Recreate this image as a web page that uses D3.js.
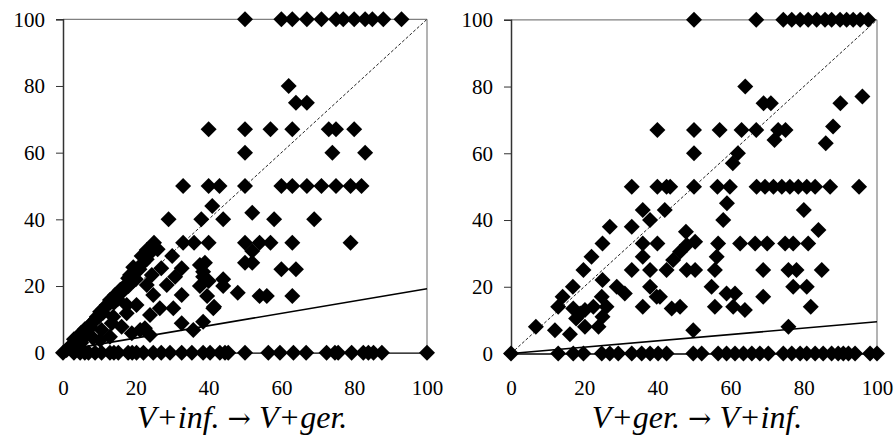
<!DOCTYPE html>
<html>
<head>
<meta charset="utf-8">
<script src="https://cdn.jsdelivr.net/npm/d3@7"></script>
<style>
  html, body { margin: 0; padding: 0; background: #fff; }
  svg { display: block; }
</style>
</head>
<body>
<svg id="chart" width="895" height="440"></svg>
<script>
// ---------------- DATA ----------------
const tickValues = [0, 20, 40, 60, 80, 100];
const leftTitle = ["V+inf. ", "\u2192", " V+ger."];
const rightTitle = ["V+ger. ", "\u2192", " V+inf."];

// Left panel: V+inf. -> V+ger.
const leftX = [
  50, 60, 63, 67, 71, 75, 77, 80, 83, 85, 88, 93,
  62, 64, 67,
  40, 50, 57, 63, 73, 75, 80,
  50, 74, 83,
  33, 40, 43, 50, 60, 63, 67, 71, 75, 79, 82,
  41, 52,
  29, 38, 44, 58, 69,
  25, 33, 36, 40, 50, 54, 57, 63, 79,
  52, 23, 21.6, 30, 50, 52, 39,
  19.3, 27, 32.6, 37.6, 60, 64, 38.5,
  18.4, 24.4, 30.8, 38.5, 44,
  17, 23, 28.5, 37.6, 44, 40, 48,
  14.3, 24.8, 32.6, 39.6, 54, 56, 63,
  12, 17.5, 20.2, 41.5, 26.6, 30.3, 41.3,
  9.3, 32.6, 35.8, 38.5,
  7.4, 13.4, 16.1, 18.9, 22.5, 23.9, 12.9, 6, 10.2, 5, 3,
  19.8, 17.9, 15.7, 12.9, 10.2, 8.3, 6.5, 3.8, 1,
  21.2, 10.6, 8.3, 17.5, 13.8, 23.9,
  21, 22, 20, 18, 16, 15, 13, 11, 10, 8, 7, 5, 4, 2, 3, 6, 9, 11, 14, 16, 19, 23, 24, 26,
  0, 3, 4.7, 6, 7, 8.8, 10.6, 12.9, 14, 15.2, 17.9, 19, 20.2, 22.1, 24.8, 27, 29.4, 32.6, 35.4,
  38.5, 40.4, 43.1, 44.5, 45.4, 50, 56.4, 59.6, 63.3, 66.8, 72.4, 74.7, 75.6, 79.3, 82.5, 83.9, 85.3, 87.6, 100
];
const leftY = [
  100, 100, 100, 100, 100, 100, 100, 100, 100, 100, 100, 100,
  80, 75, 75,
  67, 67, 67, 67, 67, 67, 67,
  60, 60, 60,
  50, 50, 50, 50, 50, 50, 50, 50, 50, 50, 50,
  44, 42,
  40, 40, 40, 40, 40,
  33, 33, 33, 33, 33, 33, 33, 33, 33,
  30.5, 30.8, 29, 29, 27, 27, 27,
  25.6, 25.3, 25.3, 26.3, 25, 25, 24.3,
  23.3, 23.3, 22.8, 22.8, 22,
  20, 20.3, 20.3, 20, 20, 21.5, 18,
  17.3, 17.3, 17.3, 17, 17, 17, 17,
  14.3, 14.3, 14.3, 13.8, 13.3, 13.3, 13.3,
  10.8, 8.8, 6.8, 9.3,
  7.8, 8.8, 7.8, 5.8, 7.3, 5.3, 4.8, 4.8, 3.8, 3, 1.8,
  24.3, 22.3, 18.8, 15.8, 12.3, 9.3, 6.3, 2.8, 0.8,
  6.8, 6.8, 4.3, 11.8, 10.8, 11.3,
  25, 27, 22, 20, 18, 16, 15, 12, 11, 9, 7, 6, 4, 2, 4, 7, 10, 13, 15, 19, 22, 28, 30, 31,
  0, 0, 0, 0, 0, 0, 0, 0, 0, 0, 0, 0, 0, 0, 0, 0, 0, 0, 0,
  0, 0, 0, 0, 0, 0, 0, 0, 0, 0, 0, 0, 0, 0, 0, 0, 0, 0, 0
];
const leftFit = [[0, 0.7], [100, 19.2]];

// Right panel: V+ger. -> V+inf.
const rightX = [
  50, 67, 74.4, 76.7, 79, 81.2, 83.5, 85.8, 87.6, 89.9, 91.7, 93.5, 95.4, 97.6,
  64, 69, 71, 90, 96,
  40, 50, 57, 63, 67, 73, 75,
  72, 88, 86,
  50, 62, 60.6,
  33, 40, 42.5, 43.5, 50, 56.4, 59.8, 67.1, 69.4, 71.7, 74, 76.2, 78.5, 80.8, 83.1, 87.2, 95.1,
  59, 80, 58, 36, 38, 42, 27, 33,
  47.8, 50.3, 44.3, 46.2, 48, 56.6, 56.2, 84,
  25, 36, 40, 62.6, 66.7, 70, 74.9, 77.1, 81.2,
  22, 36,
  19.8, 33, 38, 42.5, 48, 50.3, 55.7, 68.9, 75.8, 78, 84.9,
  25, 28.9, 31.1, 38, 39.8, 16.9, 14.1, 12.9, 24.8,
  17, 18.9, 20.2, 22.5, 26.1, 17.8, 20.2, 23.9, 25, 36,
  54.8, 58.9, 61.2, 68.9, 77.1, 80.8, 40.7,
  43.9, 46.2, 55.7, 60.7, 63.9, 81.9,
  49.8, 75.8, 6.8, 12, 16.1,
  0, 12.9, 17, 19.8, 24.8, 27, 29.3, 33, 35.7, 38, 40.2, 42.5, 49.8, 52.1, 56.6, 58.9, 61.2,
  63.5, 65.8, 68, 70.3, 74.4, 76.7, 79, 80.8, 83.1, 85.3, 87.6, 89.4, 90.8, 92.2, 94, 98.1, 100
];
const rightY = [
  100, 100, 100, 100, 100, 100, 100, 100, 100, 100, 100, 100, 100, 100,
  80, 75, 75, 75, 77,
  67, 67, 67, 67, 67, 67, 67,
  64, 68, 63,
  60, 60, 57,
  50, 50, 50, 50, 50, 50, 50, 50, 50, 50, 50, 50, 50, 50, 50, 50, 50,
  45, 43, 40, 43, 40, 43, 38, 38,
  36.5, 33.5, 28, 30.5, 32.5, 33, 29, 37,
  33, 33, 33, 33, 33, 33, 33, 33, 33,
  29, 29,
  25, 25, 25, 25, 25, 25, 25, 25, 25, 25, 25,
  22, 20, 18, 20, 17, 20, 17, 14, 17,
  13.5, 12, 13, 14, 14, 10.5, 8, 8, 11, 14,
  20, 18, 18, 17, 20, 20, 17,
  13.5, 14, 14, 14, 13, 14,
  7, 8, 8, 7, 5.8,
  0, 0, 0, 0, 0, 0, 0, 0, 0, 0, 0, 0, 0, 0, 0, 0, 0,
  0, 0, 0, 0, 0, 0, 0, 0, 0, 0, 0, 0, 0, 0, 0, 0, 0
];
const rightFit = [[0, 0], [100, 9.5]];

// ---------------- DRAW ----------------
const SERIF = "Liberation Serif";
const svg = d3.select("#chart");

const diamond = {
  draw(context, size) {
    const r = Math.sqrt(size / 2);
    context.moveTo(0, -r);
    context.lineTo(r, 0);
    context.lineTo(0, r);
    context.lineTo(-r, 0);
    context.closePath();
  }
};
const symbolPath = d3.symbol().type(diamond).size(128)();

function panel(cfg) {
  const x = d3.scaleLinear().domain([0, 100]).range([cfg.x0, cfg.x1]);
  const y = d3.scaleLinear().domain([0, 100]).range([cfg.y0, cfg.y1]);
  const g = svg.append("g");

  // plot-area border (top / right, gray)
  g.append("line").attr("x1", x(0)).attr("x2", x(100)).attr("y1", y(100)).attr("y2", y(100))
    .attr("stroke", "#808080").attr("stroke-width", 1.2);
  g.append("line").attr("x1", x(100)).attr("x2", x(100)).attr("y1", y(0)).attr("y2", y(100))
    .attr("stroke", "#808080").attr("stroke-width", 1.2);

  // y axis
  const ya = g.append("g").attr("transform", `translate(${x(0)},0)`)
    .call(d3.axisLeft(y).tickValues(tickValues).tickSize(7).tickPadding(11).tickFormat(d3.format("d")));
  ya.attr("font-family", SERIF).attr("font-size", 21);
  ya.select(".domain").attr("stroke", "#333").attr("stroke-width", 1.5);
  ya.selectAll(".tick line").attr("stroke", "#333").attr("stroke-width", 1);
  ya.selectAll(".tick text").style("font-family", SERIF).style("font-size", "21px").attr("fill", "#000");

  // x axis
  const xa = g.append("g").attr("transform", `translate(0,${y(0)})`)
    .call(d3.axisBottom(x).tickValues(tickValues).tickSize(0).tickPadding(27).tickFormat(d3.format("d")));
  xa.attr("font-family", SERIF).attr("font-size", 21);
  xa.select(".domain").attr("stroke", "#000").attr("stroke-width", 1.3);
  xa.selectAll(".tick text").style("font-family", SERIF).style("font-size", "21px").attr("fill", "#000");

  // dashed diagonal
  g.append("line").attr("x1", x(0)).attr("y1", y(0)).attr("x2", x(100)).attr("y2", y(100))
    .attr("stroke", "#222").attr("stroke-width", 1).attr("stroke-dasharray", "3,2");

  // points
  g.append("g").selectAll("path")
    .data(cfg.xs.map((v, i) => [v, cfg.ys[i]]))
    .join("path")
    .attr("d", symbolPath)
    .attr("transform", d => `translate(${x(d[0])},${y(d[1])})`)
    .attr("fill", "#000");

  // fit line
  g.append("path")
    .attr("d", d3.line().x(d => x(d[0])).y(d => y(d[1]))(cfg.fit))
    .attr("fill", "none").attr("stroke", "#000").attr("stroke-width", 1.6);

  // title
  const t = g.append("text")
    .attr("x", cfg.titleX).attr("y", 428).attr("text-anchor", "middle")
    .style("font-family", SERIF).style("font-size", "32px").style("font-style", "italic")
    .attr("fill", "#000");
  t.selectAll("tspan").data(cfg.title).join("tspan")
    .style("font-family", (d, i) => i === 1 ? "DejaVu Serif" : SERIF)
    .style("font-style", (d, i) => i === 1 ? "normal" : "italic")
    .style("font-size", (d, i) => i === 1 ? "28px" : "32px")
    .text(d => d);
}

panel({ x0: 63, x1: 427, y0: 352.7, y1: 19.3, xs: leftX, ys: leftY, fit: leftFit, title: leftTitle, titleX: 242 });
panel({ x0: 511, x1: 877, y0: 353.5, y1: 19.8, xs: rightX, ys: rightY, fit: rightFit, title: rightTitle, titleX: 697 });
</script>
</body>
</html>
